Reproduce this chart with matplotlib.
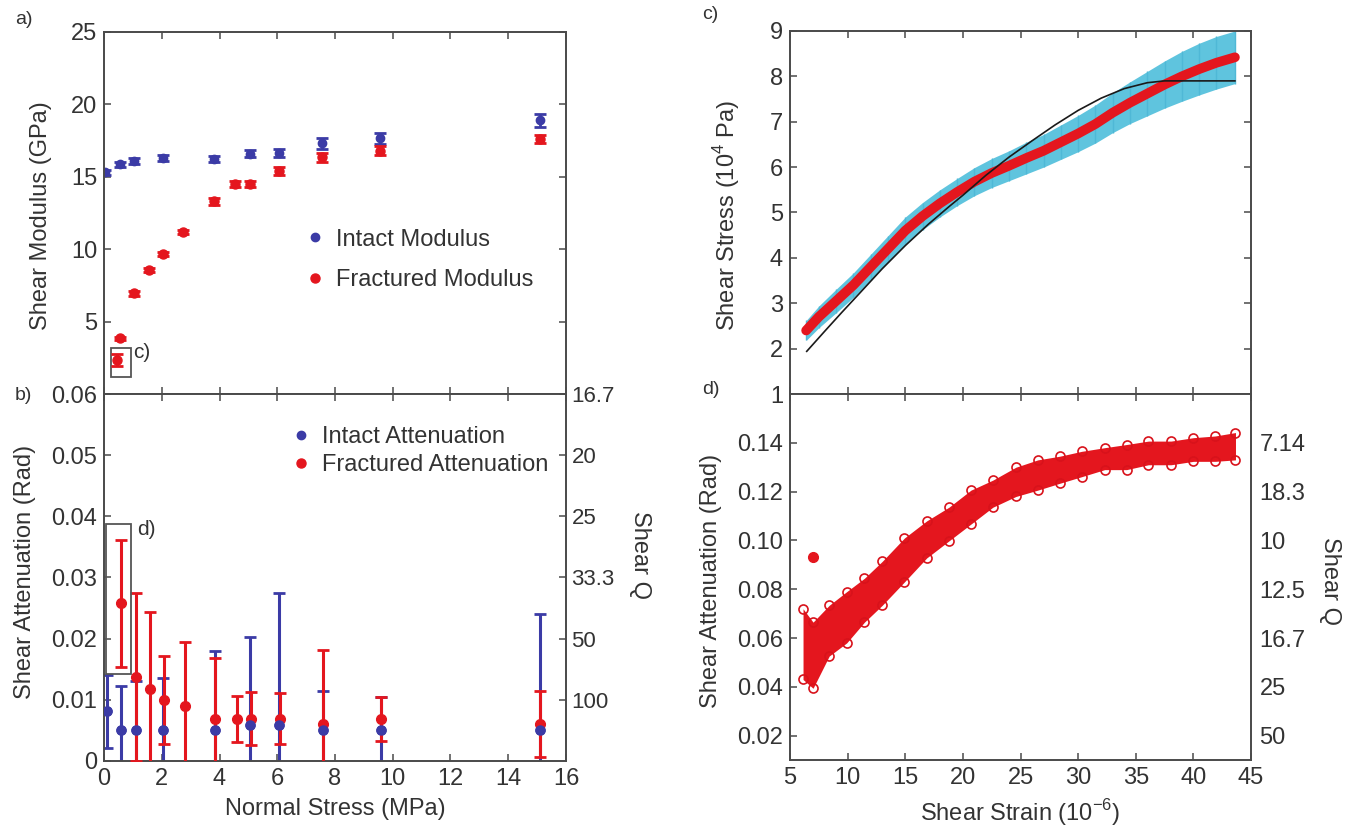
import matplotlib.pyplot as plt
import numpy as np
from matplotlib.patches import Rectangle
from matplotlib.lines import Line2D

plt.rcParams['font.family'] = ['Liberation Sans', 'DejaVu Sans']
plt.rcParams['font.size'] = 17
plt.rcParams['mathtext.fontset'] = 'custom'
plt.rcParams['mathtext.rm'] = 'Liberation Sans'
plt.rcParams['text.color'] = '#333333'
plt.rcParams['axes.labelcolor'] = '#333333'

AZUL = '#3b3ba6'
VERMELHO = '#e4161e'
CIANO = '#5fc4de'
CINZA = '#4a4a4a'

# a) modulo de cisalhamento x tensao normal
tensao_intacta = [0.05, 0.55, 1.05, 2.05, 3.8, 5.05, 6.05, 7.55, 9.55, 15.1]
modulo_intacto = [15.3, 15.85, 16.1, 16.3, 16.25, 16.6, 16.65, 17.3, 17.65, 18.9]
erro_mod_intacto = [0.15, 0.2, 0.2, 0.2, 0.2, 0.25, 0.3, 0.4, 0.4, 0.45]

tensao_fraturada = [0.45, 0.55, 1.05, 1.55, 2.05, 2.75, 3.8, 4.55, 5.05, 6.05, 7.55, 9.55, 15.1]
modulo_fraturado = [2.35, 3.85, 6.95, 8.55, 9.65, 11.2, 13.3, 14.5, 14.5, 15.4, 16.35, 16.8, 17.6]
erro_mod_fraturado = [0.4, 0.1, 0.15, 0.15, 0.15, 0.15, 0.25, 0.2, 0.2, 0.25, 0.3, 0.3, 0.3]

# b) atenuacao x tensao normal
tensao_at_intacta = [0.1, 0.6, 1.1, 2.05, 3.85, 5.05, 6.05, 7.6, 9.6, 15.1]
aten_intacta = [0.0081, 0.005, 0.005, 0.005, 0.005, 0.0059, 0.0059, 0.005, 0.005, 0.005]
erro_aten_intacta = [0.006, 0.0072, 0.008, 0.0085, 0.013, 0.0143, 0.0216, 0.0064, 0.0055, 0.019]

tensao_at_fraturada = [0.58, 1.1, 1.6, 2.08, 2.8, 3.85, 4.6, 5.08, 6.09, 7.6, 9.6, 15.1]
aten_fraturada = [0.0258, 0.0137, 0.0118, 0.0099, 0.009, 0.0069, 0.0069, 0.0069, 0.0069, 0.006, 0.0069, 0.006]
erro_aten_fraturada = [0.0104, 0.0137, 0.0125, 0.0072, 0.0105, 0.0099, 0.0038, 0.0043, 0.0042, 0.0121, 0.0036, 0.0054]

q_ticks_b = [0.01, 0.02, 0.03, 0.04, 0.05, 0.06]
q_labels_b = ['100', '50', '33.3', '25', '20', '16.7']

# c) tensao x deformacao (media e desvio)
deformacao_c = [6.4, 7.5, 9.0, 10.5, 12.0, 13.5, 15.0, 16.5, 18.0, 19.5, 21.0, 22.5, 24.0,
                25.5, 27.0, 28.5, 30.0, 31.5, 33.0, 34.5, 36.0, 37.5, 39.0, 40.5, 42.0, 43.6]
tensao_c = [2.4, 2.7, 3.05, 3.4, 3.8, 4.2, 4.6, 4.92, 5.2, 5.45, 5.68, 5.87, 6.03,
            6.2, 6.36, 6.55, 6.74, 6.95, 7.2, 7.42, 7.62, 7.82, 8.0, 8.16, 8.3, 8.42]
desvio_c = [0.22, 0.24, 0.26, 0.27, 0.28, 0.29, 0.3, 0.3, 0.3, 0.3, 0.31, 0.32, 0.33,
            0.35, 0.36, 0.38, 0.4, 0.42, 0.44, 0.46, 0.49, 0.52, 0.55, 0.57, 0.58, 0.58]

deformacao_ajuste = [6.45, 8.0, 9.5, 11.0, 13.0, 15.0, 17.0, 18.8, 20.0, 22.0, 24.0, 26.0,
                     28.0, 30.0, 32.0, 34.0, 36.0, 37.5, 43.6]
tensao_ajuste = [1.94, 2.38, 2.8, 3.21, 3.76, 4.27, 4.74, 5.13, 5.38, 5.82, 6.22, 6.58,
                 6.93, 7.25, 7.52, 7.73, 7.86, 7.9, 7.9]

# d) atenuacao x deformacao (faixa da nuvem de pontos)
deformacao_d = [6.13, 7.0, 8.4, 9.92, 11.46, 13.0, 14.93, 16.86, 18.79, 20.7, 22.6, 24.6,
                26.5, 28.4, 30.3, 32.3, 34.2, 36.1, 38.06, 40.0, 41.9, 43.65]
aten_d_sup = [0.072, 0.0665, 0.0734, 0.079, 0.0845, 0.0914, 0.101, 0.108, 0.1136, 0.1206, 0.1247, 0.130,
              0.133, 0.1345, 0.1365, 0.138, 0.1393, 0.1407, 0.1407, 0.1421, 0.1428, 0.1442]
aten_d_inf = [0.043, 0.0394, 0.0526, 0.058, 0.0665, 0.0734, 0.083, 0.0928, 0.0998, 0.1067, 0.1136, 0.118,
              0.1206, 0.1234, 0.1261, 0.129, 0.129, 0.131, 0.131, 0.1324, 0.1324, 0.133]
outlier_d = (7.0, 0.093)

q_ticks_d = [0.02, 0.04, 0.06, 0.08, 0.10, 0.12, 0.14]
q_labels_d = ['50', '25', '16.7', '12.5', '10', '18.3', '7.14']

# caixas de destaque
caixa_c = (0.24, 1.17, 0.69, 2.0)      # x, y, largura, altura
caixa_d = (0.07, 0.0142, 0.87, 0.0246)


def estilo(ax):
    for s in ax.spines.values():
        s.set_color(CINZA)
        s.set_linewidth(1.4)
    ax.tick_params(direction='in', length=5, width=1.1, colors=CINZA,
                   labelcolor='#333333', top=True, right=True, pad=5)


fig = plt.figure(figsize=(13.56, 8.26), dpi=100)

ax_a = fig.add_axes([0.0767, 0.523, 0.3407, 0.4383])
ax_b = fig.add_axes([0.0767, 0.0787, 0.3407, 0.4443])
ax_c = fig.add_axes([0.5826, 0.523, 0.340, 0.4395])
ax_d = fig.add_axes([0.5826, 0.0799, 0.340, 0.4431])

# ---- a)
estilo(ax_a)
ax_a.errorbar(tensao_intacta, modulo_intacto, yerr=erro_mod_intacto, fmt='o', color=AZUL,
              ms=6, elinewidth=2, capsize=4, capthick=2)
ax_a.errorbar(tensao_fraturada, modulo_fraturado, yerr=erro_mod_fraturado, fmt='o', color=VERMELHO,
              ms=6.5, elinewidth=2, capsize=4, capthick=2)
ax_a.add_patch(Rectangle(caixa_c[:2], caixa_c[2], caixa_c[3], fill=False, ec='#555555', lw=1.3))
ax_a.text(1.0, 2.85, 'c)', fontsize=15, va='center')
ax_a.set_xlim(0, 16)
ax_a.set_ylim(0, 25)
ax_a.set_xticks(np.arange(0, 17, 2))
ax_a.set_yticks([5, 10, 15, 20, 25])
ax_a.tick_params(labelbottom=False)
ax_a.set_ylabel('Shear Modulus (GPa)')
ax_a.yaxis.set_label_coords(-0.113, 0.494)
h_a = [Line2D([], [], ls='', marker='o', color=AZUL, ms=6),
       Line2D([], [], ls='', marker='o', color=VERMELHO, ms=6.5)]
ax_a.legend(h_a, ['Intact Modulus', 'Fractured Modulus'], frameon=False, loc='center left',
            bbox_to_anchor=(0.39, 0.37), handlelength=0.8, handletextpad=0.5, labelspacing=0.8,
            fontsize=17)

# ---- b)
estilo(ax_b)
ax_b.errorbar(tensao_at_intacta, aten_intacta, yerr=erro_aten_intacta, fmt='o', color=AZUL,
              ms=6.5, elinewidth=2.2, capsize=4.5, capthick=2, zorder=2)
ax_b.errorbar(tensao_at_fraturada, aten_fraturada, yerr=erro_aten_fraturada, fmt='o', color=VERMELHO,
              ms=7, elinewidth=2.2, capsize=4.5, capthick=2, zorder=3)
ax_b.plot(tensao_at_intacta, aten_intacta, 'o', color=AZUL, ms=6.5, zorder=4)
ax_b.add_patch(Rectangle(caixa_d[:2], caixa_d[2], caixa_d[3], fill=False, ec='#555555', lw=1.3, zorder=5))
ax_b.text(1.15, 0.0378, 'd)', fontsize=15, va='center')
ax_b.set_xlim(0, 16)
ax_b.set_ylim(0, 0.06)
ax_b.set_xticks(np.arange(0, 17, 2))
ax_b.set_yticks(np.arange(0, 0.061, 0.01))
ax_b.set_yticklabels(['0', '0.01', '0.02', '0.03', '0.04', '0.05', '0.06'])
ax_b.tick_params(right=False)
ax_b.set_xlabel('Normal Stress (MPa)', labelpad=6)
ax_b.set_ylabel('Shear Attenuation (Rad)')
ax_b.yaxis.set_label_coords(-0.147, 0.515)
h_b = [Line2D([], [], ls='', marker='o', color=AZUL, ms=6),
       Line2D([], [], ls='', marker='o', color=VERMELHO, ms=6.5)]
ax_b.legend(h_b, ['Intact Attenuation', 'Fractured Attenuation'], frameon=False, loc='center left',
            bbox_to_anchor=(0.36, 0.845), handlelength=0.8, handletextpad=0.5, labelspacing=0.25,
            fontsize=17)
ax_bq = ax_b.twinx()
ax_bq.set_ylim(0, 0.06)
ax_bq.set_yticks(q_ticks_b)
ax_bq.set_yticklabels(q_labels_b, fontsize=16)
ax_bq.tick_params(direction='in', length=5, width=1.1, colors=CINZA, labelcolor='#333333', pad=4)
for s in ax_bq.spines.values():
    s.set_visible(False)
ax_bq.set_ylabel('Shear Q', rotation=270)
ax_bq.yaxis.set_label_coords(1.185, 0.56)

# ---- c)
estilo(ax_c)
lim_inf = [t - d for t, d in zip(tensao_c, desvio_c)]
lim_sup = [t + d for t, d in zip(tensao_c, desvio_c)]
ax_c.fill_between(deformacao_c, lim_inf, lim_sup, color=CIANO, lw=0)
ax_c.vlines(deformacao_c, lim_inf, lim_sup, color='#4fb8d6', lw=1)
ax_c.plot(deformacao_c, tensao_c, color=VERMELHO, lw=7, solid_capstyle='round', solid_joinstyle='round')
ax_c.plot(deformacao_ajuste, tensao_ajuste, color='#1a1a1a', lw=1.2)
ax_c.set_xlim(5, 45)
ax_c.set_ylim(1, 9)
ax_c.set_xticks(np.arange(5, 46, 5))
ax_c.set_yticks(np.arange(1, 10, 1))
ax_c.tick_params(labelbottom=False)
ax_c.set_ylabel('Shear Stress (10$^{4}$ Pa)')
ax_c.yaxis.set_label_coords(-0.104, 0.493)

# ---- d)
estilo(ax_d)
ax_d.fill_between(deformacao_d, aten_d_inf, aten_d_sup, color=VERMELHO, lw=0)
for serie in (aten_d_sup, aten_d_inf):
    ax_d.plot(deformacao_d, serie, 'o', mfc='none', mec='#d8121b', ms=6.5, mew=1.2)
ax_d.plot(*outlier_d, 'o', color=VERMELHO, ms=7)
ax_d.set_xlim(5, 45)
ax_d.set_ylim(0.01, 0.16)
ax_d.set_xticks(np.arange(5, 46, 5))
ax_d.set_yticks(q_ticks_d)
ax_d.set_yticklabels(['0.02', '0.04', '0.06', '0.08', '0.10', '0.12', '0.14'])
ax_d.tick_params(right=False)
ax_d.set_xlabel('Shear Strain (10$^{-6}$)', labelpad=6)
ax_d.set_ylabel('Shear Attenuation (Rad)')
ax_d.yaxis.set_label_coords(-0.147, 0.49)
ax_dq = ax_d.twinx()
ax_dq.set_ylim(0.01, 0.16)
ax_dq.set_yticks(q_ticks_d)
ax_dq.set_yticklabels(q_labels_d)
ax_dq.tick_params(direction='in', length=0, colors=CINZA, labelcolor='#333333', pad=6)
for s in ax_dq.spines.values():
    s.set_visible(False)
ax_dq.set_ylabel('Shear Q', rotation=270)
ax_dq.yaxis.set_label_coords(1.195, 0.49)

# rotulos dos paineis
fig.text(0.011, 0.976, 'a)', fontsize=14, va='center')
fig.text(0.011, 0.521, 'b)', fontsize=14, va='center')
fig.text(0.518, 0.982, 'c)', fontsize=14, va='center')
fig.text(0.518, 0.528, 'd)', fontsize=14, va='center')

fig.savefig('out.png', dpi=100)
